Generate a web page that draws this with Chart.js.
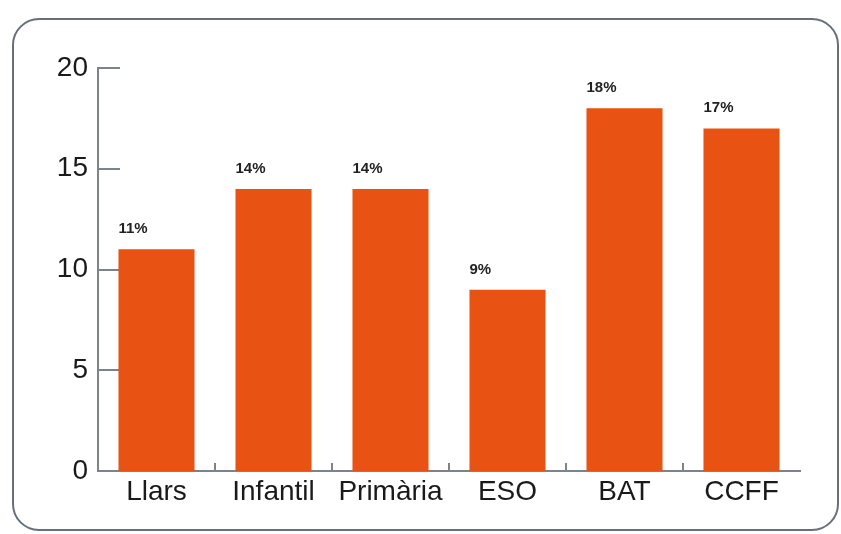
<!DOCTYPE html>
<html>
<head>
<meta charset="utf-8">
<script src="https://cdn.jsdelivr.net/npm/chart.js@4"></script>
<style>
  body { margin: 0; background: #fff; }
</style>
</head>
<body>
<canvas id="grafico" width="841" height="534"></canvas>
<script>
// dades del gràfic
const etapes = ['Llars', 'Infantil', 'Primària', 'ESO', 'BAT', 'CCFF'];
const valors = [11, 14, 14, 9, 18, 17];
const percentatges = ['11%', '14%', '14%', '9%', '18%', '17%'];
const marquesY = [0, 5, 10, 15, 20];

const COLOR_BARRA = '#e85212';
const COLOR_EIX = '#7d838b';

// marc arrodonit de fons
const marc = {
    id: 'marc',
    beforeDraw(chart) {
        const ctx = chart.ctx;
        ctx.save();
        ctx.fillStyle = '#fff';
        ctx.fillRect(0, 0, chart.width, chart.height);
        ctx.strokeStyle = '#66707c';
        ctx.lineWidth = 2;
        ctx.beginPath();
        ctx.roundRect(13, 19, 825, 511, 26);
        ctx.stroke();
        ctx.restore();
    }
};

// marques curtes cap endins dels eixos
const marques = {
    id: 'marques',
    beforeDatasetsDraw(chart) {
        const { ctx, scales: { x, y } } = chart;
        ctx.save();
        ctx.strokeStyle = COLOR_EIX;
        ctx.lineWidth = 2;
        ctx.beginPath();
        y.ticks.forEach(t => {
            const py = Math.round(y.getPixelForValue(t.value));
            ctx.moveTo(x.left, py);
            ctx.lineTo(x.left + 22, py);
        });
        for (let i = 1; i < etapes.length; i++) {
            const px = Math.round((x.getPixelForValue(i - 1) + x.getPixelForValue(i)) / 2);
            ctx.moveTo(px, y.bottom);
            ctx.lineTo(px, y.bottom - 8);
        }
        ctx.stroke();
        ctx.restore();
    }
};

// etiquetes de percentatge damunt de cada barra
const etiquetes = {
    id: 'etiquetes',
    afterDatasetsDraw(chart) {
        const ctx = chart.ctx;
        const barres = chart.getDatasetMeta(0).data;
        ctx.save();
        ctx.fillStyle = '#222';
        ctx.font = 'bold 15px "Liberation Sans", Arial, sans-serif';
        ctx.textAlign = 'left';
        ctx.textBaseline = 'alphabetic';
        barres.forEach((b, i) => {
            ctx.fillText(percentatges[i], b.x - b.width / 2, b.y - 16);
        });
        ctx.restore();
    }
};

new Chart(document.getElementById('grafico'), {
    type: 'bar',
    data: {
        labels: etapes,
        datasets: [{
            data: valors,
            backgroundColor: COLOR_BARRA,
            borderWidth: 0,
            categoryPercentage: 1,
            barPercentage: 0.65
        }]
    },
    options: {
        responsive: false,
        animation: false,
        events: [],
        layout: { padding: { top: 68, right: 41, bottom: 0, left: 0 } },
        plugins: {
            legend: { display: false },
            tooltip: { enabled: false }
        },
        scales: {
            x: {
                grid: { display: false, drawTicks: false },
                border: { color: COLOR_EIX, width: 2 },
                ticks: {
                    color: '#1a1a1a',
                    padding: 4,
                    font: { family: '"Liberation Sans", Arial, sans-serif', size: 28 }
                },
                afterFit: scale => { scale.height = 63; }
            },
            y: {
                min: 0,
                max: 20,
                grid: { display: false, drawTicks: false },
                border: { color: COLOR_EIX, width: 2 },
                afterBuildTicks: scale => {
                    scale.ticks = marquesY.map(v => ({ value: v }));
                },
                ticks: {
                    color: '#1a1a1a',
                    padding: 10,
                    font: { family: '"Liberation Sans", Arial, sans-serif', size: 28 }
                },
                afterFit: scale => { scale.width = 98; }
            }
        }
    },
    plugins: [marc, marques, etiquetes]
});
</script>
</body>
</html>
